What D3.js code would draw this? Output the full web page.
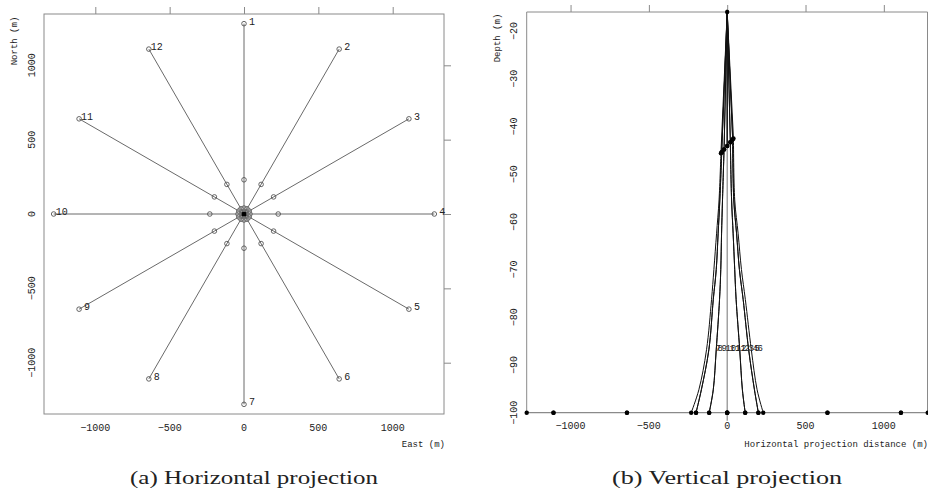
<!DOCTYPE html>
<html>
<head>
<meta charset="utf-8">
<script src="https://cdn.jsdelivr.net/npm/d3@7"></script>
<style>
  body { margin: 0; background: #fff; }
  svg { display: block; }
  text { fill: #222; }
</style>
</head>
<body>
<svg id="chart" width="928" height="495"></svg>
<script>
// ---- Data -----------------------------------------------------------------
// Anchor stations (numbered clockwise from north)
const stations = ["1","2","3","4","5","6","7","8","9","10","11","12"];
const outerEast  = [0, 640, 1109, 1280, 1109, 640, 0, -640, -1109, -1280, -1109, -640];
const outerNorth = [1280, 1109, 640, 0, -640, -1109, -1280, -1109, -640, 0, 640, 1109];
// Touch-down points on the seabed
const innerEast  = [0, 115, 199, 230, 199, 115, 0, -115, -199, -230, -199, -115];
const innerNorth = [230, 199, 115, 0, -115, -199, -230, -199, -115, 0, 115, 199];
// Fairlead ring
const midEast  = [0, 20, 35, 40, 35, 20, 0, -20, -35, -40, -35, -20];
const midNorth = [40, 35, 20, 0, -20, -35, -40, -35, -20, 0, 20, 35];
const midDepth = [-44.1, -43.3, -42.7, -42.5, -42.7, -43.3, -44.1, -44.8, -45.4, -45.6, -45.4, -44.8];
const hubDepth = -16;
const seabedDepth = -100;
// Line shape below the fairleads: horizontal distance at these depths
const profileDepths = [-55.4, -62.5, -70, -76.3, -86.8, -95.2];
const profileX = [
  [0, 0, 0, 0, 0, 0],
  [28, 38, 48, 57, 80, 97],
  [42, 60, 78, 102, 137, 174],
  [48, 70, 91, 116, 154, 191],
  [42, 60, 78, 102, 137, 174],
  [28, 38, 48, 57, 80, 97],
  [0, 0, 0, 0, 0, 0],
  [-30, -36, -41, -49, -70, -89],
  [-47, -58, -70, -89, -117, -165],
  [-52, -68, -85, -100, -132, -181],
  [-47, -58, -70, -89, -117, -165],
  [-30, -36, -41, -49, -70, -89]
];
// Line labels in the vertical view
const labelText  = ["7","8","9","10","11","12","1","2","3","4","5","6"];
const labelX     = [-75, -62, -36, -11, 15, 53, 85, 110, 136, 161, 174, 193];
const labelDepth = -86.3;

const eastTicks  = [-1000, -500, 0, 500, 1000];
const northTicks = [-1000, -500, 0, 500, 1000];
const distTicks  = [-1000, -500, 0, 500, 1000];
const depthTicks = [-100, -90, -80, -70, -60, -50, -40, -30, -20];

// ---- Drawing --------------------------------------------------------------
const svg = d3.select("#chart");
const frameColor = "#8a8a8a";
const tickFont = "'Liberation Mono', 'DejaVu Sans Mono', monospace";
const fmt = d => (d < 0 ? "\u2212" + Math.abs(d) : String(d));

// ===== (a) Horizontal projection =====
const gA = svg.append("g");
const xA = d3.scaleLinear().domain([-1345, 1345]).range([44, 444]);
const yA = d3.scaleLinear().domain([-1345, 1345]).range([414, 14]);

gA.append("rect").attr("x", 44).attr("y", 14).attr("width", 400).attr("height", 400)
  .attr("fill", "none").attr("stroke", frameColor).attr("stroke-width", 1);

// outward ticks on top and right
gA.append("g").attr("transform", "translate(0,14)")
  .call(d3.axisTop(xA).tickValues(eastTicks).tickSize(7).tickFormat(""))
  .call(g => g.select(".domain").remove())
  .call(g => g.selectAll("line").attr("stroke", frameColor));
gA.append("g").attr("transform", "translate(444,0)")
  .call(d3.axisRight(yA).tickValues(northTicks).tickSize(7).tickFormat(""))
  .call(g => g.select(".domain").remove())
  .call(g => g.selectAll("line").attr("stroke", frameColor));

// tick labels bottom and left
gA.append("g").selectAll("text").data(eastTicks).join("text")
  .attr("x", d => xA(d)).attr("y", 431)
  .attr("text-anchor", "middle").attr("font-family", tickFont).attr("font-size", 10)
  .text(fmt);
gA.append("g").selectAll("text").data(northTicks).join("text")
  .attr("transform", d => `translate(35,${yA(d)}) rotate(-90)`)
  .attr("text-anchor", "middle").attr("font-family", tickFont).attr("font-size", 10)
  .text(fmt);
gA.append("text").attr("transform", "translate(17,41) rotate(-90)")
  .attr("text-anchor", "middle").attr("font-family", tickFont).attr("font-size", 9)
  .text("North (m)");
gA.append("text").attr("x", 445).attr("y", 447)
  .attr("text-anchor", "end").attr("font-family", tickFont).attr("font-size", 9)
  .text("East (m)");

// lines from the hub to each anchor
gA.append("g").selectAll("line").data(stations).join("line")
  .attr("x1", xA(0)).attr("y1", yA(0))
  .attr("x2", (d, i) => xA(outerEast[i])).attr("y2", (d, i) => yA(outerNorth[i]))
  .attr("stroke", "#6a6a6a").attr("stroke-width", 1);

const circleStyle = sel => sel.attr("r", 2.3).attr("fill", "none")
  .attr("stroke", "#555").attr("stroke-width", 0.9);
gA.append("g").selectAll("circle").data(stations).join("circle")
  .attr("cx", (d, i) => xA(midEast[i])).attr("cy", (d, i) => yA(midNorth[i])).call(circleStyle);
gA.append("g").selectAll("circle").data(stations).join("circle")
  .attr("cx", (d, i) => xA(innerEast[i])).attr("cy", (d, i) => yA(innerNorth[i])).call(circleStyle);
gA.append("g").selectAll("circle").data(stations).join("circle")
  .attr("cx", (d, i) => xA(outerEast[i])).attr("cy", (d, i) => yA(outerNorth[i])).call(circleStyle);
gA.append("circle").attr("cx", xA(0)).attr("cy", yA(0)).attr("r", 2.6).attr("fill", "#000");

gA.append("g").selectAll("text").data(stations).join("text")
  .attr("x", (d, i) => xA(outerEast[i]) + 8).attr("y", (d, i) => yA(outerNorth[i]) + 1)
  .attr("text-anchor", "middle").attr("font-family", tickFont).attr("font-size", 10)
  .text(d => d);

// ===== (b) Vertical projection =====
const gB = svg.append("g");
const xB = d3.scaleLinear().domain([-1280, 1280]).range([526.7, 927.7]);
const yB = d3.scaleLinear().domain([-100, -16]).range([412.7, 12]);

gB.append("line").attr("x1", 526.7).attr("x2", 927.5).attr("y1", 12).attr("y2", 12)
  .attr("stroke", frameColor);
gB.append("line").attr("x1", 526.7).attr("x2", 526.7).attr("y1", 12).attr("y2", 412.7)
  .attr("stroke", frameColor);
gB.append("line").attr("x1", 927.5).attr("x2", 927.5).attr("y1", 12).attr("y2", 412.7)
  .attr("stroke", frameColor);

gB.append("g").attr("transform", "translate(0,12)")
  .call(d3.axisTop(xB).tickValues(distTicks).tickSize(7).tickFormat(""))
  .call(g => g.select(".domain").remove())
  .call(g => g.selectAll("line").attr("stroke", frameColor));

gB.append("g").selectAll("text").data(distTicks).join("text")
  .attr("x", d => xB(d)).attr("y", 429)
  .attr("text-anchor", "middle").attr("font-family", tickFont).attr("font-size", 10)
  .text(fmt);
gB.append("g").selectAll("text").data(depthTicks).join("text")
  .attr("transform", d => `translate(517,${yB(d)}) rotate(-90)`)
  .attr("text-anchor", "middle").attr("font-family", tickFont).attr("font-size", 10)
  .text(fmt);
gB.append("text").attr("transform", "translate(500,38) rotate(-90)")
  .attr("text-anchor", "middle").attr("font-family", tickFont).attr("font-size", 9)
  .text("Depth (m)");
gB.append("text").attr("x", 928).attr("y", 447)
  .attr("text-anchor", "end").attr("font-family", tickFont).attr("font-size", 9)
  .text("Horizontal projection distance (m)");

// seabed line and vertical hub line
gB.append("line").attr("x1", xB(-1280)).attr("x2", xB(1280))
  .attr("y1", yB(seabedDepth)).attr("y2", yB(seabedDepth))
  .attr("stroke", "#8a8a8a").attr("stroke-width", 1.2);
gB.append("line").attr("x1", xB(0)).attr("x2", xB(0))
  .attr("y1", yB(hubDepth) - 3).attr("y2", yB(seabedDepth) + 8)
  .attr("stroke", "#8a8a8a").attr("stroke-width", 1.2);

// upper straight segments hub -> fairlead
gB.append("g").selectAll("line").data(stations).join("line")
  .attr("x1", xB(0)).attr("y1", yB(hubDepth))
  .attr("x2", (d, i) => xB(midEast[i])).attr("y2", (d, i) => yB(midDepth[i]))
  .attr("stroke", "#111").attr("stroke-width", 1);

// hanging lines fairlead -> touch-down
const lineGen = d3.line().x(p => xB(p[0])).y(p => yB(p[1])).curve(d3.curveCatmullRom.alpha(0.5));
gB.append("g").selectAll("path").data(stations).join("path")
  .attr("d", (d, i) => lineGen([
    [midEast[i], midDepth[i]],
    ...profileDepths.map((z, k) => [profileX[i][k], z]),
    [innerEast[i], seabedDepth]
  ]))
  .attr("fill", "none").attr("stroke", (d, i) => innerEast[i] === 0 ? "none" : "#111")
  .attr("stroke-width", 1);

// points
const dot = sel => sel.attr("r", 2.2).attr("fill", "#000");
gB.append("circle").attr("cx", xB(0)).attr("cy", yB(hubDepth)).call(dot);
gB.append("g").selectAll("circle").data(stations).join("circle")
  .attr("cx", (d, i) => xB(midEast[i])).attr("cy", (d, i) => yB(midDepth[i])).call(dot);
gB.append("g").selectAll("circle").data(stations).join("circle")
  .attr("cx", (d, i) => xB(innerEast[i])).attr("cy", yB(seabedDepth)).call(dot);
gB.append("g").selectAll("circle").data(stations).join("circle")
  .attr("cx", (d, i) => xB(outerEast[i])).attr("cy", yB(seabedDepth)).call(dot);

// labels sit in a tight cluster between the hanging lines
gB.append("g").selectAll("text").data(labelText).join("text")
  .attr("x", (d, i) => xB(labelX[i])).attr("y", yB(labelDepth) + 3.5)
  .attr("font-family", tickFont).attr("font-size", 9)
  .text(d => d);

// ===== Captions =====
const capFont = "'Liberation Serif', 'DejaVu Serif', serif";
svg.append("text").attr("x", 254).attr("y", 484).attr("text-anchor", "middle")
  .attr("font-family", capFont).attr("font-size", 19)
  .attr("textLength", 248).attr("lengthAdjust", "spacingAndGlyphs")
  .text("(a) Horizontal projection");
svg.append("text").attr("x", 727).attr("y", 484).attr("text-anchor", "middle")
  .attr("font-family", capFont).attr("font-size", 19)
  .attr("textLength", 230).attr("lengthAdjust", "spacingAndGlyphs")
  .text("(b) Vertical projection");
</script>
</body>
</html>
